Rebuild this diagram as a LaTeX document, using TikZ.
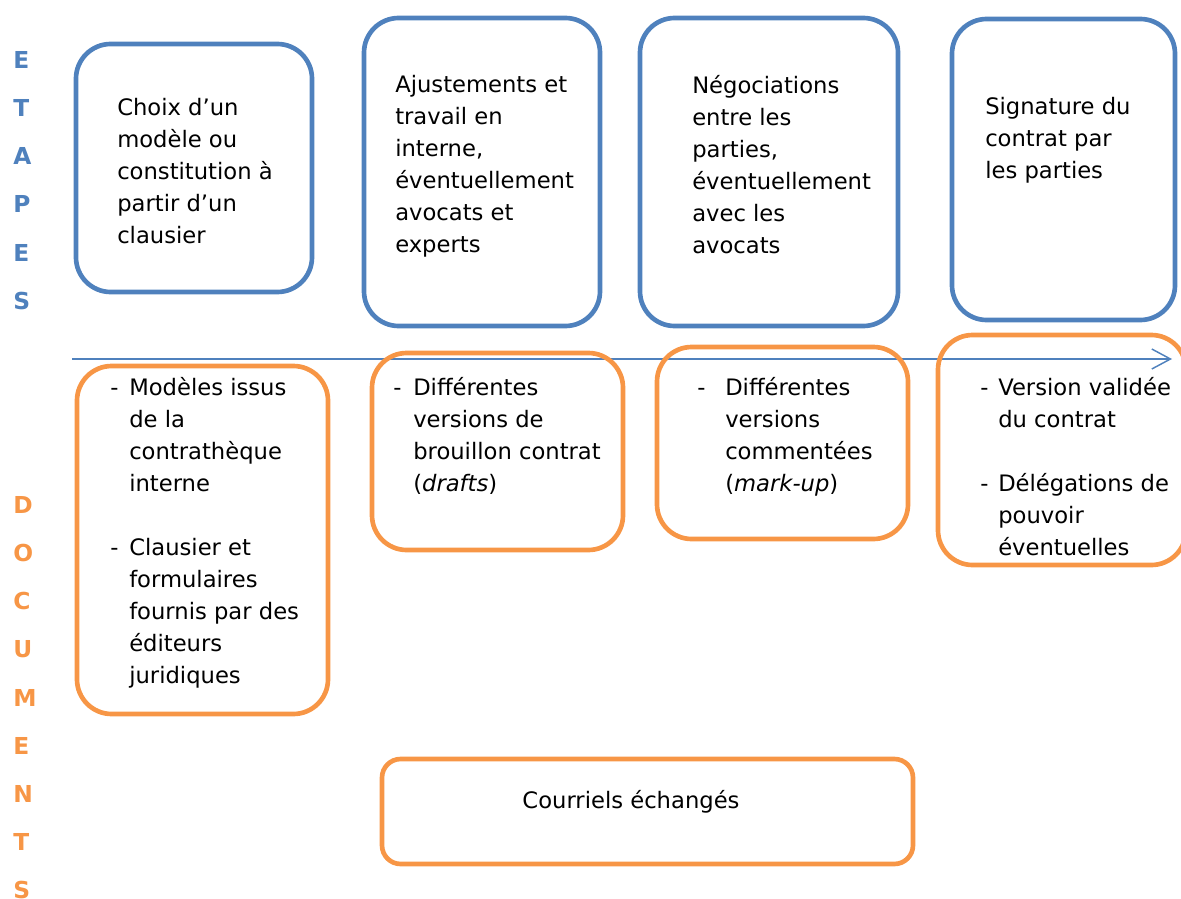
\documentclass[tikz,border=0pt]{standalone}
\usepackage{fontspec}
\setmainfont{DejaVu Sans}
\usetikzlibrary{arrows.meta,fit}
\definecolor{eblue}{HTML}{4F81BD}
\definecolor{eorange}{HTML}{F79646}
\newcommand{\fl}{\rule{0pt}{16pt}}
\begin{document}
\begin{tikzpicture}[x=0.75pt,y=-0.75pt,
  box/.style={draw, line width=3.5pt, rounded corners=26pt, inner sep=0pt},
  bluebox/.style={box, draw=eblue},
  orangebox/.style={box, draw=eorange},
  txt/.style={anchor=north west, inner sep=0pt, align=left, font=\fontsize{17pt}{24pt}\selectfont},
  dashmark/.style={anchor=base west, inner sep=0pt, font=\fontsize{17pt}{24pt}\selectfont},
  letters/.style={anchor=north west, inner sep=0pt, align=left, font=\fontsize{17.5pt}{36.15pt}\selectfont\bfseries},
  axis/.style={draw=eblue, line width=1.1pt, -{Straight Barb[length=14pt,width=15pt,line width=1.1pt]}}]
\useasboundingbox (0,0) rectangle (1181,899);

% side letters
\node[letters, text=eblue] (etapes) at (13,46.7) {\fl E\\T\\A\\P\\E\\S};
\node[letters, text=eorange] (documents) at (13,491.7) {\fl D\\O\\C\\U\\M\\E\\N\\T\\S};

% steps (blue)
\node[bluebox, fit={(76,44) (312,292)}] (b1) {};
\node[bluebox, fit={(364,18) (600,326)}] (b2) {};
\node[bluebox, fit={(640,18) (898,326)}] (b3) {};
\node[bluebox, fit={(952,19) (1175,320)}] (b4) {};

\node[txt] (tb1) at (117,93.7) {\fl Choix d’un\\modèle ou\\constitution à\\partir d’un\\clausier};
\node[txt] (tb2) at (395,70.7) {\fl Ajustements et\\travail en\\interne,\\éventuellement\\avocats et\\experts};
\node[txt] (tb3) at (692,71.7) {\fl Négociations\\entre les\\parties,\\éventuellement\\avec les\\avocats};
\node[txt] (tb4) at (985,92.7) {\fl Signature du\\contrat par\\les parties};

% time axis
\coordinate (axs) at (72,359);
\coordinate (axe) at (1172,359);
\draw[axis] (axs) -- (axe);

% documents (orange)
\node[orangebox, fit={(77,366) (328,714)}] (o1) {};
\node[orangebox, fit={(372,353) (623,550)}] (o2) {};
\node[orangebox, fit={(657,347) (908,539)}] (o3) {};
\node[orangebox, fit={(938,335) (1186,565)}] (o4) {};
\node[orangebox, rounded corners=14pt, fit={(382,759) (913,864)}] (o5) {};

\node[dashmark] (d1a) at (110,395) {-};
\node[dashmark] (d1b) at (110,555) {-};
\node[txt] (to1) at (129,373.7) {\fl Modèles issus\\de la\\contrathèque\\interne\\[24pt]Clausier et\\formulaires\\fournis par des\\éditeurs\\juridiques};

\node[dashmark] (d2) at (393,395) {-};
\node[txt] (to2) at (413,373.7) {\fl Différentes\\versions de\\brouillon contrat\\(\textit{drafts})};

\node[dashmark] (d3) at (697,395) {-};
\node[txt] (to3) at (725,373.7) {\fl Différentes\\versions\\commentées\\(\textit{mark-up})};

\node[dashmark] (d4a) at (980,395) {-};
\node[dashmark] (d4b) at (980,491) {-};
\node[txt] (to4) at (998,373.7) {\fl Version validée\\du contrat\\[24pt]Délégations de\\pouvoir\\éventuelles};

\node[dashmark, anchor=base] (to5) at (631,808) {Courriels échangés};
\end{tikzpicture}
\end{document}
